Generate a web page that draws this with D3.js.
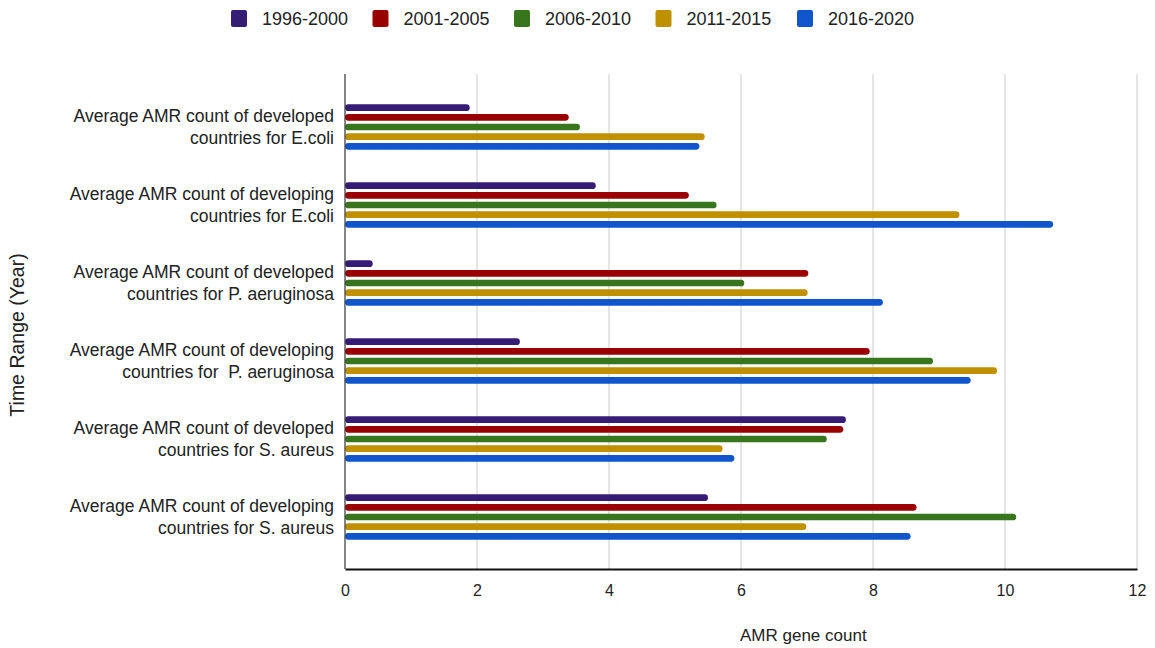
<!DOCTYPE html>
<html>
<head>
<meta charset="utf-8">
<script src="https://cdn.jsdelivr.net/npm/d3@7"></script>
<style>
  html, body { margin: 0; padding: 0; background: #fff; }
  svg text { font-family: "Liberation Sans", Arial, sans-serif; fill: #222; }
</style>
</head>
<body>
<svg id="chart" width="1155" height="648"></svg>
<script>
// Category labels (each split over two lines)
const categories = [
  ["Average AMR count of developed", "countries for E.coli"],
  ["Average AMR count of developing", "countries for E.coli"],
  ["Average AMR count of developed", "countries for P. aeruginosa"],
  ["Average AMR count of developing", "countries for  P. aeruginosa"],
  ["Average AMR count of developed", "countries for S. aureus"],
  ["Average AMR count of developing", "countries for S. aureus"]
];

const seriesNames = ["1996-2000", "2001-2005", "2006-2010", "2011-2015", "2016-2020"];
const seriesColors = ["#351c75", "#990000", "#38761d", "#bf9000", "#1155cc"];

// Values per series, one entry per category
const s1996_2000 = [1.89, 3.80, 0.42, 2.65, 7.59, 5.50];
const s2001_2005 = [3.39, 5.21, 7.02, 7.95, 7.55, 8.66];
const s2006_2010 = [3.56, 5.63, 6.05, 8.91, 7.30, 10.17];
const s2011_2015 = [5.45, 9.31, 7.01, 9.88, 5.72, 6.99];
const s2016_2020 = [5.37, 10.73, 8.15, 9.48, 5.90, 8.57];
const seriesValues = [s1996_2000, s2001_2005, s2006_2010, s2011_2015, s2016_2020];

const xTicks = [0, 2, 4, 6, 8, 10, 12];

const svg = d3.select("#chart");
const plot = { left: 345, right: 1137, top: 74, bottom: 569 };

const x = d3.scaleLinear().domain([0, 12]).range([plot.left, plot.right]);
const y = d3.scaleBand().domain(d3.range(categories.length)).range([88, 556]).padding(0);
const yInner = d3.scaleBand().domain(d3.range(seriesNames.length))
  .range([y.bandwidth() / 2 - 24.1, y.bandwidth() / 2 + 24.1]).paddingInner(0.3).paddingOuter(0.15);

// Vertical gridlines
svg.append("g").selectAll("line")
  .data(xTicks.filter(t => t > 0))
  .join("line")
  .attr("x1", d => x(d)).attr("x2", d => x(d))
  .attr("y1", plot.top).attr("y2", plot.bottom)
  .attr("stroke", "#cccccc").attr("stroke-width", 1);

// Bars
const groups = svg.append("g").selectAll("g")
  .data(categories.map((c, i) => i))
  .join("g")
  .attr("transform", i => `translate(0,${y(i)})`);

groups.selectAll("rect")
  .data(i => seriesValues.map((vals, s) => ({ s, v: vals[i] })))
  .join("rect")
  .attr("x", x(0))
  .attr("y", d => yInner(d.s))
  .attr("height", yInner.bandwidth())
  .attr("width", d => x(d.v) - x(0))
  .attr("rx", yInner.bandwidth() / 2)
  .attr("fill", d => seriesColors[d.s]);

// Left axis line
svg.append("line")
  .attr("x1", plot.left).attr("x2", plot.left)
  .attr("y1", plot.top).attr("y2", plot.bottom)
  .attr("stroke", "#333").attr("stroke-width", 1.2);

// Bottom axis
const xAxis = d3.axisBottom(x).tickValues(xTicks).tickSize(0).tickPadding(16).tickFormat(d3.format("d"));
const gx = svg.append("g").attr("transform", `translate(0,${plot.bottom})`).call(xAxis);
gx.select(".domain").attr("stroke", "#111").attr("stroke-width", 2);
gx.selectAll("text").style("font-size", "16px").style("font-family", "'Liberation Sans', Arial, sans-serif").attr("fill", "#222");

// Category labels
const labels = svg.append("g").selectAll("text")
  .data(categories)
  .join("text")
  .attr("text-anchor", "end")
  .style("font-size", "17.5px")
  .style("white-space", "pre")
  .attr("transform", (d, i) => `translate(334,${y(i) + y.bandwidth() / 2})`);
labels.selectAll("tspan")
  .data(d => d)
  .join("tspan")
  .attr("x", 0)
  .attr("y", (d, j) => j === 0 ? -5 : 16.5)
  .text(d => d);

// Axis titles
svg.append("text")
  .attr("x", 740).attr("y", 641)
  .style("font-size", "17px")
  .text("AMR gene count");

svg.append("text")
  .attr("transform", "translate(24,335) rotate(-90)")
  .attr("text-anchor", "middle")
  .style("font-size", "19.5px")
  .text("Time Range (Year)");

// Legend
const legend = svg.append("g").selectAll("g")
  .data(seriesNames)
  .join("g")
  .attr("transform", (d, i) => `translate(${231 + i * 141.5},10)`);
legend.append("rect")
  .attr("width", 16).attr("height", 17).attr("rx", 2)
  .attr("fill", (d, i) => seriesColors[i]);
legend.append("text")
  .attr("x", 31).attr("y", 15)
  .style("font-size", "18px")
  .text(d => d);
</script>
</body>
</html>
